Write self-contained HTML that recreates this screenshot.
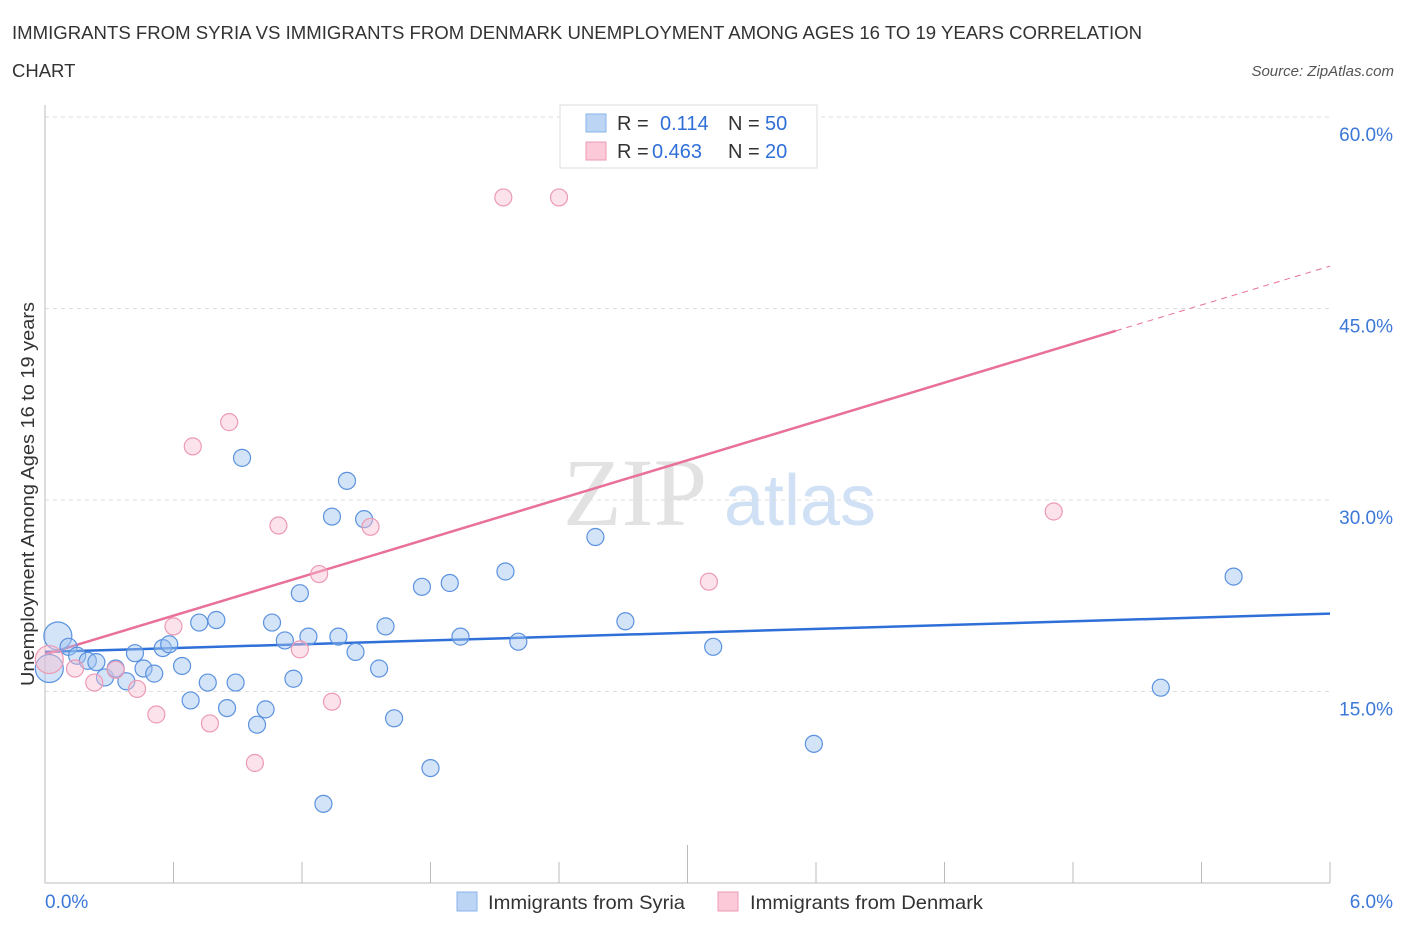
<!DOCTYPE html>
<html><head><meta charset="utf-8"><style>
body{margin:0;background:#fff;width:1406px;height:930px;overflow:hidden;font-family:"Liberation Sans",sans-serif}
</style></head><body>
<svg id="chart" width="1406" height="930" xmlns="http://www.w3.org/2000/svg" font-family="Liberation Sans, sans-serif">
<text x="12" y="39" font-size="18.5" fill="#333" textLength="1130" lengthAdjust="spacingAndGlyphs">IMMIGRANTS FROM SYRIA VS IMMIGRANTS FROM DENMARK UNEMPLOYMENT AMONG AGES 16 TO 19 YEARS CORRELATION</text>
<text x="12" y="77" font-size="18.5" fill="#333">CHART</text>
<text x="1394" y="76" font-size="15" fill="#555" font-style="italic" text-anchor="end">Source: ZipAtlas.com</text>
<g>
<text x="635" y="525" font-size="96" fill="#e2e2e2" font-family="Liberation Serif, serif" text-anchor="middle">ZIP</text>
<text x="800" y="525" font-size="72" fill="#d0e0f5" text-anchor="middle">atlas</text>
</g>
<g id="grid"></g><g id="axes"></g><g id="trends"></g><g id="pts"></g>
<g>
<rect x="560" y="105" width="257" height="63" fill="#fff" stroke="#ddd"/>
<rect x="586" y="114" width="20" height="18" fill="#bcd5f5" stroke="#8ab3ea"/>
<rect x="586" y="142" width="20" height="18" fill="#fbc9d8" stroke="#ec9ab3"/>
<text x="617" y="130" font-size="20" fill="#333">R = </text><text x="660" y="130" font-size="20" fill="#2f6fd8">0.114</text>
<text x="728" y="130" font-size="20" fill="#333">N = </text><text x="765" y="130" font-size="20" fill="#2f6fd8">50</text>
<text x="617" y="158" font-size="20" fill="#333">R = </text><text x="652" y="158" font-size="20" fill="#2f6fd8">0.463</text>
<text x="728" y="158" font-size="20" fill="#333">N = </text><text x="765" y="158" font-size="20" fill="#2f6fd8">20</text>
</g>
<g>
<rect x="457" y="892" width="20" height="19" fill="#bcd5f5" stroke="#8ab3ea"/>
<text x="488" y="909" font-size="19.5" fill="#333" textLength="197" lengthAdjust="spacingAndGlyphs">Immigrants from Syria</text>
<rect x="718" y="892" width="20" height="19" fill="#fbc9d8" stroke="#ec9ab3"/>
<text x="750" y="909" font-size="19.5" fill="#333" textLength="233" lengthAdjust="spacingAndGlyphs">Immigrants from Denmark</text>
</g>
<text transform="translate(34,494) rotate(-90)" font-size="18" fill="#333" text-anchor="middle" textLength="384" lengthAdjust="spacingAndGlyphs">Unemployment Among Ages 16 to 19 years</text>
</svg>
<script>
const syriaX=[0.06,0.02,0.11,0.15,0.20,0.24,0.28,0.33,0.38,0.42,0.46,0.51,0.55,0.58,0.64,0.68,0.72,0.76,0.80,0.85,0.89,0.92,0.99,1.03,1.06,1.12,1.16,1.19,1.23,1.30,1.34,1.37,1.41,1.45,1.49,1.56,1.59,1.63,1.76,1.80,1.89,1.94,2.15,2.21,2.57,2.71,3.12,3.59,5.21,5.55];
const syriaY=[19.35,16.8,18.5,17.8,17.4,17.3,16.1,16.8,15.8,18.0,16.8,16.4,18.4,18.7,17.0,14.3,20.4,15.7,20.6,13.7,15.7,33.3,12.4,13.6,20.4,19.0,16.0,22.7,19.3,6.2,28.7,19.3,31.5,18.1,28.5,16.8,20.1,12.9,23.2,9.0,23.5,19.3,24.4,18.9,27.1,20.5,18.5,10.9,15.3,24.0];
const denX=[0.02,0.14,0.23,0.33,0.43,0.52,0.60,0.69,0.77,0.86,0.98,1.09,1.19,1.28,1.34,1.52,2.14,2.40,3.10,4.71];
const denY=[17.5,16.8,15.7,16.7,15.2,13.2,20.1,34.2,12.5,36.1,9.4,28.0,18.3,24.2,14.2,27.9,53.7,53.7,23.6,29.1];
const syriaTrend=[18.1,0.5];
const denTrend=[17.9,5.07];
const yTicks=[15,30,45,60];
const xTickVals=[0,0.6,1.2,1.8,2.4,3.0,3.6,4.2,4.8,5.4,6.0];
const NS='http://www.w3.org/2000/svg';
const X=v=>45+v/6*1285, Y=v=>883-v/15*191.5;
function mk(p,t,a){const e=document.createElementNS(NS,t);for(const k in a)e.setAttribute(k,a[k]);document.getElementById(p).appendChild(e);return e;}
yTicks.forEach(t=>{
 const l=mk('grid','line',{x1:45,x2:1330,y1:Y(t),y2:Y(t),stroke:'#ddd','stroke-dasharray':'4,4'});
 
 
 const tx=mk('grid','text',{x:1393,y:Y(t)+24,'font-size':19,fill:'#3b78d8','text-anchor':'end'});
 tx.textContent=t.toFixed(1)+'%';
 
 
});
const ax=mk('axes','path',{d:'M45,105V883H1330',fill:'none',stroke:'#bbb'});


xTickVals.forEach((t,i)=>{
 const tk=mk('axes','line',{x1:X(t),x2:X(t),y1:(i==5?845:862),y2:883,stroke:'#bbb'});
 
 
});
[[0,'0.0%',45,'start'],[6,'6.0%',1393,'end']].forEach(a=>{
 const t=mk('axes','text',{x:a[2],y:908,'font-size':19,fill:'#3b78d8','text-anchor':a[3]});t.textContent=a[1];
 
 
});
const tb=mk('trends','line',{x1:X(0),y1:Y(syriaTrend[0]),x2:X(6),y2:Y(syriaTrend[0]+6*syriaTrend[1]),stroke:'#2f6fd8','stroke-width':2.5});


const tp=mk('trends','line',{x1:X(0),y1:Y(denTrend[0]),x2:X(5),y2:Y(denTrend[0]+5*denTrend[1]),stroke:'#e8709a','stroke-width':2.5});


const td=mk('trends','line',{x1:X(5),y1:Y(denTrend[0]+5*denTrend[1]),x2:X(6),y2:Y(denTrend[0]+6*denTrend[1]),stroke:'#e8709a','stroke-width':1,'stroke-dasharray':'6,5'});


syriaX.forEach((x,i)=>{
 const c=mk('pts','circle',{cx:X(x),cy:Y(syriaY[i]),r:i<2?14:8.5,fill:'rgba(160,196,240,0.45)',stroke:'#5b92e0','stroke-width':1.2});
 
 
});
denX.forEach((x,i)=>{
 const c=mk('pts','circle',{cx:X(x),cy:Y(denY[i]),r:i<1?14:8.5,fill:'rgba(249,190,208,0.45)',stroke:'#ec9ab3','stroke-width':1.2});
 
 
});
</script>
</body></html>
